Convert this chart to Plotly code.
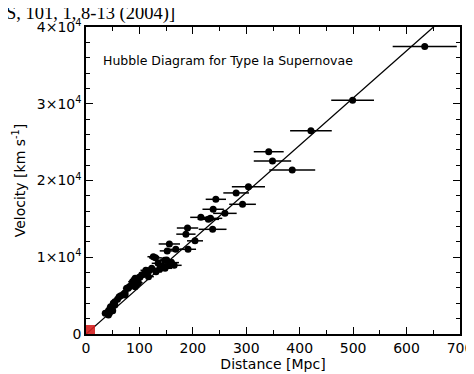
import plotly.graph_objects as go

distance = [634, 499, 421, 386, 342, 349, 304, 281, 293, 243, 238, 260, 215, 229, 233, 237,
            190, 187, 204, 156, 168, 152, 191, 130, 147, 156, 165, 145, 138, 131, 123, 118,
            110, 117, 104, 101, 92, 98, 87, 92, 81, 76, 73, 70, 62, 59, 54, 51, 46, 45, 42,
            50, 36, 44, 135, 148, 160, 85, 65, 112, 126, 151, 79, 73, 54, 42]
velocity = [37450, 30450, 26490, 21370, 23750, 22540, 19200, 18380, 16900, 17550, 16250, 15720,
            15200, 14940, 15070, 13640, 13810, 13010, 12140, 11730, 11030, 10830, 11040, 9920,
            9600, 8990, 8950, 8770, 8430, 8120, 8560, 8250, 7990, 7470, 7690, 7390, 7260, 6690,
            6820, 6160, 6160, 5950, 5390, 5170, 4860, 4520, 4210, 4000, 3560, 3350, 3040, 3040,
            2700, 2740, 9210, 8560, 9300, 6400, 5000, 8300, 10070, 9640, 5950, 5080, 3780, 2480]
dist_err = [60, 40, 39, 43, 28, 35, 31, 24, 25, 19, 20, 22, 20, 20, 22, 26,
            20, 18, 15, 20, 15, 14, 15, 12, 13, 14, 14, 12, 12, 11, 11, 10,
            10, 10, 9, 9, 8, 8, 8, 8, 7, 7, 6, 6, 5, 5, 5, 5, 4, 4, 4,
            4, 3, 4, 12, 13, 14, 8, 6, 10, 11, 13, 7, 6, 5, 4]

H0 = 61.5
fit_x = [0, 700]
fit_y = [H0 * v for v in fit_x]

local_x = [0]
local_y = [0]

y_tickvals = [0, 10000, 20000, 30000, 40000]
y_ticktext = ["0", "1×10<sup>4</sup>", "2×10<sup>4</sup>", "3×10<sup>4</sup>", "4×10<sup>4</sup>"]
x_tickvals = [0, 100, 200, 300, 400, 500, 600, 700]

fig = go.Figure()
fig.add_trace(go.Scatter(x=fit_x, y=fit_y, mode="lines",
                         line=dict(color="black", width=1.3), hoverinfo="skip"))
fig.add_trace(go.Scatter(x=distance, y=velocity, mode="markers",
                         marker=dict(color="black", size=7),
                         error_x=dict(type="data", array=dist_err, color="black",
                                      thickness=1.5, width=0)))
fig.add_trace(go.Scatter(x=local_x, y=local_y, mode="markers", cliponaxis=True,
                         marker=dict(color="#d42020", size=18, symbol="square",
                                     opacity=0.9)))

font_family = "DejaVu Sans"
axis_common = dict(showgrid=False, zeroline=False, showline=True, linecolor="black",
                   linewidth=1.5, mirror="allticks", ticks="inside", ticklen=7,
                   tickwidth=1.2, tickcolor="black", automargin=False,
                   tickfont=dict(family=font_family, size=14, color="black"))

fig.update_layout(
    width=474, height=374,
    margin=dict(l=78, r=22, t=19, b=48),
    paper_bgcolor="white", plot_bgcolor="white",
    showlegend=False,
    xaxis=dict(range=[0, 700], tickvals=x_tickvals, **axis_common,
               minor=dict(ticks="inside", dtick=50, ticklen=4, tickcolor="black"),
               title=dict(text="Distance [Mpc]", standoff=0,
                          font=dict(family=font_family, size=14, color="black"))),
    yaxis=dict(range=[0, 40000], tickvals=y_tickvals, ticktext=y_ticktext, **axis_common,
               minor=dict(ticks="inside", dtick=2000, ticklen=4, tickcolor="black"),
               title=dict(text="Velocity [km s<sup>-1</sup>]", standoff=8,
                          font=dict(family=font_family, size=14, color="black"))),
    annotations=[
        dict(text="Hubble Diagram for Type Ia Supernovae", xref="paper", yref="paper",
             x=0.04, y=0.89, xanchor="left", yanchor="middle", showarrow=False,
             font=dict(family=font_family, size=12.5, color="black")),
        dict(text="PNAS, 101, 1, 8-13 (2004)]", xref="paper", yref="paper",
             x=0.242, y=1.044, xanchor="right", yanchor="middle", showarrow=False,
             font=dict(family="Liberation Serif", size=18.5, color="black")),
    ],
)

fig.write_html("out.html")
